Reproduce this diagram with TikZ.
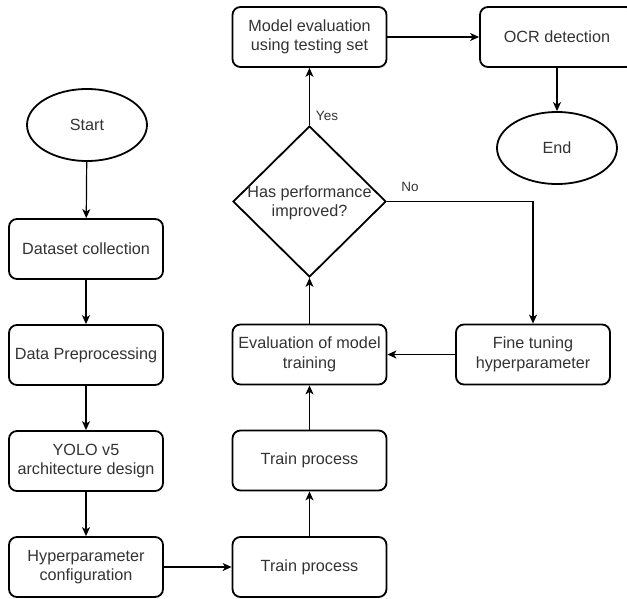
\documentclass[tikz,border=0pt]{standalone}
\usepackage{fontspec}
\setmainfont{Liberation Sans}
\usetikzlibrary{shapes.geometric,arrows.meta}
\definecolor{ink}{HTML}{333333}
\begin{document}
\begin{tikzpicture}[x=1pt,y=-1pt,
  txtfont/.style={text=ink, font=\fontsize{16.2}{19.5}\selectfont},
  box/.style={draw, line width=1.8pt, rounded corners=8pt, minimum width=154pt,
    minimum height=60pt, inner sep=0pt, align=center, txtfont},
  term/.style={draw, ellipse, line width=1.8pt, minimum width=120pt,
    minimum height=72pt, inner sep=0pt, txtfont},
  decision/.style={draw, diamond, line width=1.8pt, minimum width=153pt,
    minimum height=151pt, inner sep=0pt},
  flow/.style={line width=1.2pt, -{Stealth[length=9pt,width=8pt,inset=2.5pt]}},
  lbl/.style={text=ink, font=\fontsize{13.5}{16}\selectfont}]
\useasboundingbox (0,0) rectangle (627,598);
\clip (0,0) rectangle (627,598);

% left column
\node[term] (start) at (87,125) {Start};
\node[box] (ds)  at (86,249) {Dataset collection};
\node[box] (pre) at (86,355) {Data Preprocessing};
\node[box] (yolo) at (86,461) {YOLO v5\\architecture design};
\node[box] (hp)  at (86,567) {Hyperparameter\\configuration};

% middle column
\node[box] (tr1) at (309.5,567) {Train process};
\node[box] (tr2) at (309.5,460.5) {Train process};
\node[box] (evm) at (309.5,354.5) {Evaluation of model\\training};
\node[decision] (dec) at (309.5,201.5) {};
\node[txtfont, align=center] at (309.5,203) {Has performance\\improved?};
\node[box] (meval) at (309.5,37) {Model evaluation\\using testing set};

% right column
\node[box] (ocr) at (557,37) {OCR detection};
\node[term] (end) at (557,148) {End};
\node[box] (ft) at (533,354.5) {Fine tuning\\hyperparameter};

% connectors
\draw[flow] (start) -- (ds);
\draw[flow] (ds) -- (pre);
\draw[flow] (pre) -- (yolo);
\draw[flow] (yolo) -- (hp);
\draw[flow] (hp) -- (tr1);
\draw[flow] (tr1) -- (tr2);
\draw[flow] (tr2) -- (evm);
\draw[flow] (evm) -- (dec.south);
\draw[flow] (dec.north) -- (meval);
\draw[flow] (dec.east) -- (dec.east -| ft.north) -- (ft.north);
\draw[flow] (ft) -- (evm);
\draw[flow] (meval) -- (ocr);
\draw[flow] (ocr) -- (end);

% branch labels
\node[lbl] at (327,116) {Yes};
\node[lbl] at (410,187) {No};
\end{tikzpicture}
\end{document}
